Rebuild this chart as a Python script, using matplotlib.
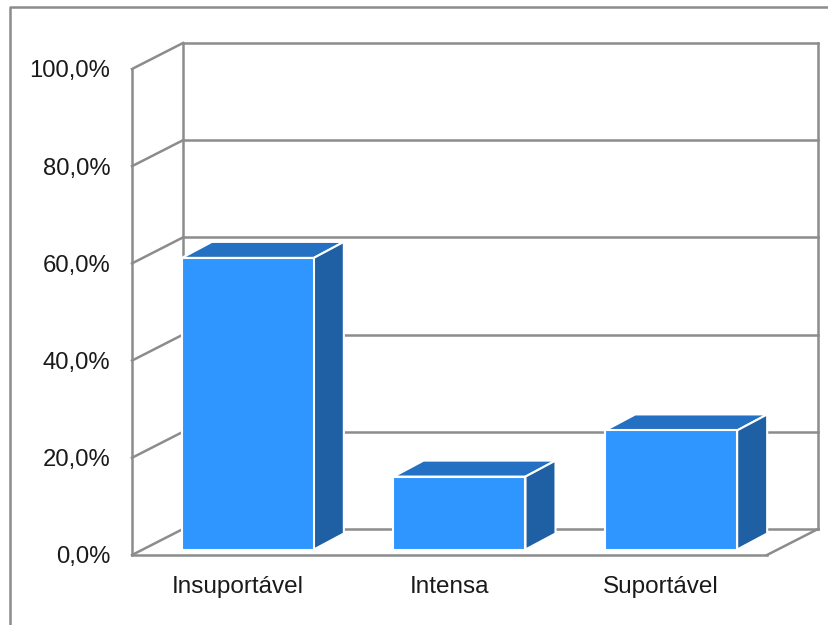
import numpy as np
import matplotlib.pyplot as plt
from matplotlib.patches import Polygon, Rectangle

categorias = ['Insuportável', 'Intensa', 'Suportável']
valores = [60.0, 15.0, 24.5]
y_ticks = [0, 20, 40, 60, 80, 100]
y_labels = ['0,0%', '20,0%', '40,0%', '60,0%', '80,0%', '100,0%']

plt.rcParams['font.family'] = ['Liberation Sans', 'DejaVu Sans']

W, H = 829, 625
gris = '#8c8c8c'
lw = 1.8

fig = plt.figure(figsize=(W / 100, H / 100), dpi=100)
ax = fig.add_axes([132 / W, (H - 555) / H, 635 / W, 486 / H])
ax.set_xlim(-0.5, 2.5)
ax.set_ylim(0, 100)

# pixeles a unidades de datos
px = 3 / 635
py = 100 / 486

# desplazamiento oblicuo de la pared del fondo
fx = 51 * px
fy = 26 * py
# desplazamiento de las barras
bx0, by0 = 10 * px, 5.5 * py
bx1, by1 = 30 * px, 16 * py
ancho = 132 * px

for s in ['top', 'right']:
    ax.spines[s].set_visible(False)
for s in ['left', 'bottom']:
    ax.spines[s].set_color(gris)
    ax.spines[s].set_linewidth(lw)
    ax.spines[s].set_zorder(1)

ax.set_xticks(range(len(categorias)))
ax.set_xticklabels(categorias, fontsize=17.5, color='#1a1a1a')
ax.set_yticks(y_ticks)
ax.set_yticklabels(y_labels, fontsize=17.2, color='#1a1a1a')
ax.tick_params(axis='x', length=0, pad=15)
ax.tick_params(axis='y', length=0, pad=15.5)

# paredes
for t in y_ticks:
    ax.plot([-0.5, -0.5 + fx], [t, t + fy], color=gris, lw=lw, clip_on=False, zorder=1)
    ax.plot([-0.5 + fx, 2.5 + fx], [t + fy, t + fy], color=gris, lw=lw, clip_on=False, zorder=1)
ax.plot([-0.5 + fx, -0.5 + fx], [fy, 100 + fy], color=gris, lw=lw, clip_on=False, zorder=1)
ax.plot([2.5 + fx, 2.5 + fx], [fy, 100 + fy], color=gris, lw=lw, clip_on=False, zorder=1)
ax.plot([2.5, 2.5 + fx], [0, fy], color=gris, lw=lw, clip_on=False, zorder=1)

# barras
for i, v in enumerate(valores):
    x0 = i - ancho / 2 + bx0
    x1 = i + ancho / 2 + bx0
    y0 = by0
    y1 = v + by0
    tapa = [(x0, y1), (x1, y1), (x1 + bx1, y1 + by1), (x0 + bx1, y1 + by1)]
    lado = [(x1, y0), (x1 + bx1, y0 + by1), (x1 + bx1, y1 + by1), (x1, y1)]
    ax.add_patch(Polygon(tapa, facecolor='#2470c2', edgecolor='white', lw=1.5, zorder=3, clip_on=False))
    ax.add_patch(Polygon(lado, facecolor='#1f5fa3', edgecolor='white', lw=1.5, zorder=3, clip_on=False))
    ax.add_patch(Rectangle((x0, y0), x1 - x0, y1 - y0, facecolor='#3096ff', edgecolor='white', lw=1.5, zorder=4))

# marco exterior, cortado por la derecha y por abajo
fig.add_artist(plt.Line2D([10 / W, 10 / W, 1], [0, (H - 7) / H, (H - 7) / H], color=gris, lw=lw))

fig.savefig('out.png', dpi=100)
